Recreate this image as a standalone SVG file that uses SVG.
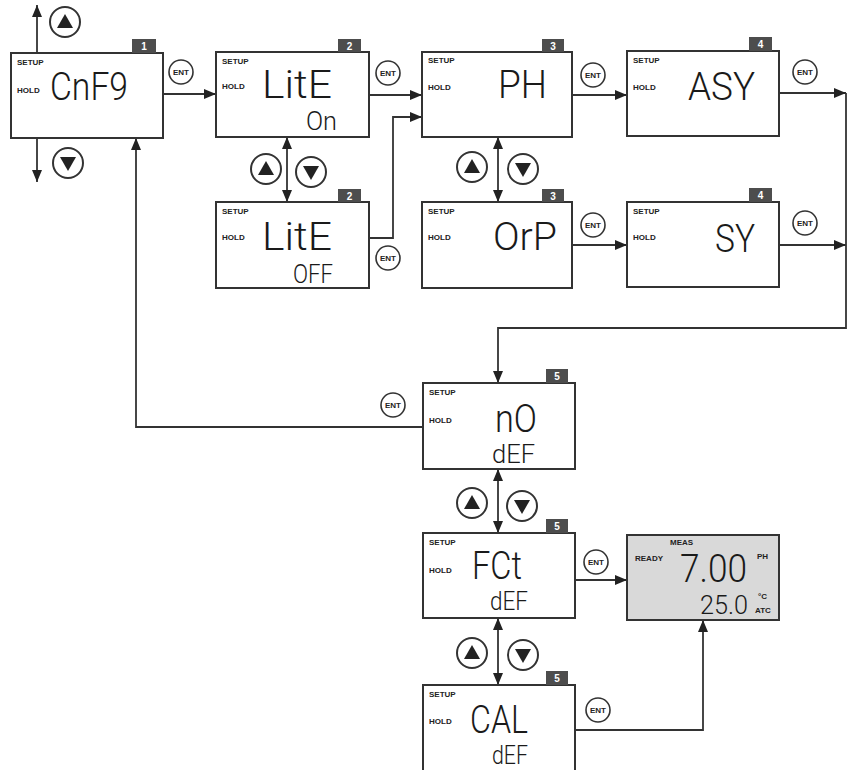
<svg xmlns="http://www.w3.org/2000/svg" width="849" height="770" viewBox="0 0 849 770">
<style>
.bg{fill:#ffffff}
.box{fill:#ffffff;stroke:#333;stroke-width:2}
.meas{fill:#d9d9d9;stroke:#333;stroke-width:2}
.badge{fill:#4d4d4d}
.bt{fill:#fff;font-family:"Liberation Sans",Arial,sans-serif;font-weight:bold;font-size:10px;text-anchor:middle}
.lbl{fill:#222;font-family:"Liberation Sans",Arial,sans-serif;font-weight:bold;font-size:8px}
.seg{fill:#1a1a1a;font-family:Roboto,"DejaVu Sans Condensed",sans-serif;font-weight:300;font-size:38px}
.seg2{fill:#1a1a1a;font-family:Roboto,"DejaVu Sans Condensed",sans-serif;font-weight:300;font-size:26px}
.conn{fill:none;stroke:#333;stroke-width:1.8}
.btn{fill:#fff;stroke:#333;stroke-width:2}
.tri{fill:#222}
.ent{fill:#fff;stroke:#333;stroke-width:1.6}
.entt{fill:#222;font-family:"Liberation Sans Narrow","Liberation Sans",sans-serif;font-weight:bold;font-size:8px;text-anchor:middle}
</style>
<defs>
<marker id="ah" markerUnits="userSpaceOnUse" markerWidth="12" markerHeight="10" refX="12" refY="5" orient="auto-start-reverse">
<path d="M0,0 L12,5 L0,10 z" fill="#222"/>
</marker>
<g id="up"><circle class="btn" r="15"/><polygon class="tri" points="0,-8 -8,6 8,6"/></g>
<g id="down"><circle class="btn" r="15"/><polygon class="tri" points="0,8 -8,-6 8,-6"/></g>
<g id="ent"><circle class="ent" r="12"/><text class="entt" y="3">ENT</text></g>
</defs>
<rect class="bg" width="849" height="770"/>

<g id="connectors">
<line class="conn" x1="37" y1="53" x2="37" y2="5" marker-end="url(#ah)"/>
<line class="conn" x1="37" y1="138" x2="37" y2="182" marker-end="url(#ah)"/>
<line class="conn" x1="163" y1="94" x2="216" y2="94" marker-end="url(#ah)"/>
<line class="conn" x1="369" y1="95" x2="422" y2="95" marker-end="url(#ah)"/>
<path class="conn" d="M369,238 H393 V117 H422" marker-end="url(#ah)"/>
<line class="conn" x1="287" y1="137" x2="287" y2="202" marker-start="url(#ah)" marker-end="url(#ah)"/>
<line class="conn" x1="572" y1="95" x2="627" y2="95" marker-end="url(#ah)"/>
<line class="conn" x1="498" y1="137" x2="498" y2="202" marker-start="url(#ah)" marker-end="url(#ah)"/>
<line class="conn" x1="572" y1="245" x2="627" y2="245" marker-end="url(#ah)"/>
<line class="conn" x1="779" y1="93" x2="846" y2="93" marker-end="url(#ah)"/>
<line class="conn" x1="779" y1="245" x2="846" y2="245" marker-end="url(#ah)"/>
<path class="conn" d="M846,93 V328 H498 V383" marker-end="url(#ah)"/>
<path class="conn" d="M423,427 H136 V138" marker-end="url(#ah)"/>
<line class="conn" x1="498" y1="469" x2="498" y2="533" marker-start="url(#ah)" marker-end="url(#ah)"/>
<line class="conn" x1="575" y1="580" x2="627" y2="580" marker-end="url(#ah)"/>
<line class="conn" x1="498" y1="618" x2="498" y2="685" marker-start="url(#ah)" marker-end="url(#ah)"/>
<path class="conn" d="M575,730 H703 V620" marker-end="url(#ah)"/>
</g>

<g id="buttons">
<use href="#up" x="65" y="22"/>
<use href="#down" x="68" y="163"/>
<use href="#up" x="266" y="169"/>
<use href="#down" x="311" y="172"/>
<use href="#up" x="472" y="167"/>
<use href="#down" x="523" y="169"/>
<use href="#up" x="472" y="503"/>
<use href="#down" x="522" y="506"/>
<use href="#up" x="472" y="653"/>
<use href="#down" x="523" y="655"/>
<use href="#ent" x="181" y="72"/>
<use href="#ent" x="388" y="73"/>
<use href="#ent" x="388" y="258"/>
<use href="#ent" x="593" y="75"/>
<use href="#ent" x="593" y="225"/>
<use href="#ent" x="805" y="72"/>
<use href="#ent" x="805" y="223"/>
<use href="#ent" x="393" y="405"/>
<use href="#ent" x="596" y="562"/>
<use href="#ent" x="598" y="710"/>
</g>

<g id="n1">
<rect class="box" x="11" y="53" width="152" height="85"/>
<rect class="badge" x="132" y="39" width="24" height="14"/><text class="bt" x="144" y="50">1</text>
<text class="lbl" x="17" y="65">SETUP</text>
<text class="lbl" x="17" y="93" font-size="7">HOLD</text>
<text class="seg" x="50" y="100" textLength="78" lengthAdjust="spacingAndGlyphs">CnF9</text>
</g>

<g id="n2">
<rect class="box" x="216" y="52" width="153" height="85"/>
<rect class="badge" x="338" y="39" width="23" height="13"/><text class="bt" x="349.5" y="49.5">2</text>
<text class="lbl" x="222" y="64">SETUP</text>
<text class="lbl" x="222" y="89" font-size="7">HOLD</text>
<text class="seg" x="262" y="98" textLength="70" lengthAdjust="spacingAndGlyphs">LitE</text>
<text class="seg2" x="306" y="130" font-size="22" textLength="31" lengthAdjust="spacingAndGlyphs">On</text>
</g>

<g id="n2b">
<rect class="box" x="216" y="202" width="153" height="86"/>
<rect class="badge" x="338" y="189" width="23" height="13"/><text class="bt" x="349.5" y="199.5">2</text>
<text class="lbl" x="222" y="214">SETUP</text>
<text class="lbl" x="222" y="240" font-size="7">HOLD</text>
<text class="seg" x="262" y="250" textLength="70" lengthAdjust="spacingAndGlyphs">LitE</text>
<text class="seg2" x="293" y="283" font-size="26" textLength="40" lengthAdjust="spacingAndGlyphs">OFF</text>
</g>

<g id="n3">
<rect class="box" x="422" y="52" width="150" height="85"/>
<rect class="badge" x="542" y="39" width="22" height="13"/><text class="bt" x="553" y="49.5">3</text>
<text class="lbl" x="428" y="63">SETUP</text>
<text class="lbl" x="428" y="90" font-size="7">HOLD</text>
<text class="seg" x="498" y="98" textLength="49" lengthAdjust="spacingAndGlyphs">PH</text>
</g>

<g id="n3b">
<rect class="box" x="422" y="202" width="150" height="86"/>
<rect class="badge" x="542" y="189" width="22" height="13"/><text class="bt" x="553" y="199.5">3</text>
<text class="lbl" x="428" y="214">SETUP</text>
<text class="lbl" x="428" y="240" font-size="7">HOLD</text>
<text class="seg" x="493" y="250" textLength="64" lengthAdjust="spacingAndGlyphs">OrP</text>
</g>

<g id="n4">
<rect class="box" x="627" y="51" width="152" height="85"/>
<rect class="badge" x="749" y="37" width="23" height="14"/><text class="bt" x="760.5" y="48">4</text>
<text class="lbl" x="633" y="63">SETUP</text>
<text class="lbl" x="633" y="90" font-size="7">HOLD</text>
<text class="seg" x="688" y="100" textLength="67" lengthAdjust="spacingAndGlyphs">ASY</text>
</g>

<g id="n4b">
<rect class="box" x="627" y="202" width="152" height="85"/>
<rect class="badge" x="749" y="188" width="23" height="14"/><text class="bt" x="760.5" y="199">4</text>
<text class="lbl" x="633" y="214">SETUP</text>
<text class="lbl" x="633" y="240" font-size="7">HOLD</text>
<text class="seg" x="715" y="252" textLength="40" lengthAdjust="spacingAndGlyphs">SY</text>
</g>

<g id="n5">
<rect class="box" x="423" y="383" width="152" height="86"/>
<rect class="badge" x="546" y="369" width="22" height="14"/><text class="bt" x="557" y="380">5</text>
<text class="lbl" x="429" y="395">SETUP</text>
<text class="lbl" x="429" y="423" font-size="7">HOLD</text>
<text class="seg" x="495" y="432" font-size="34" textLength="42" lengthAdjust="spacingAndGlyphs">nO</text>
<text class="seg2" x="492" y="463" font-size="22" textLength="43" lengthAdjust="spacingAndGlyphs">dEF</text>
</g>

<g id="n6">
<rect class="box" x="423" y="533" width="152" height="85"/>
<rect class="badge" x="546" y="519" width="22" height="14"/><text class="bt" x="557" y="530">5</text>
<text class="lbl" x="429" y="545">SETUP</text>
<text class="lbl" x="429" y="573" font-size="7">HOLD</text>
<text class="seg" x="472" y="579" font-size="30" textLength="50" lengthAdjust="spacingAndGlyphs">FCt</text>
<text class="seg2" x="490" y="610" font-size="20" textLength="38" lengthAdjust="spacingAndGlyphs">dEF</text>
</g>

<g id="n7">
<rect class="meas" x="627" y="535" width="152" height="85"/>
<text class="lbl" x="670" y="545" font-size="9">MEAS</text>
<text class="lbl" x="635" y="561" font-size="7">READY</text>
<text class="seg" x="680" y="582" font-size="32" textLength="67" lengthAdjust="spacingAndGlyphs">7.00</text>
<text class="lbl" x="757" y="559" font-size="7">PH</text>
<text class="seg2" x="700" y="614" font-size="21" textLength="48" lengthAdjust="spacingAndGlyphs">25.0</text>
<text class="lbl" x="758" y="599" font-size="7">°C</text>
<text class="lbl" x="755" y="613" font-size="7">ATC</text>
</g>

<g id="n8">
<rect class="box" x="423" y="685" width="152" height="95"/>
<rect class="badge" x="546" y="671" width="22" height="14"/><text class="bt" x="557" y="682">5</text>
<text class="lbl" x="429" y="697">SETUP</text>
<text class="lbl" x="429" y="724" font-size="7">HOLD</text>
<text class="seg" x="470" y="733" font-size="29" textLength="58" lengthAdjust="spacingAndGlyphs">CAL</text>
<text class="seg2" x="492" y="764" font-size="19" textLength="36" lengthAdjust="spacingAndGlyphs">dEF</text>
</g>
</svg>
